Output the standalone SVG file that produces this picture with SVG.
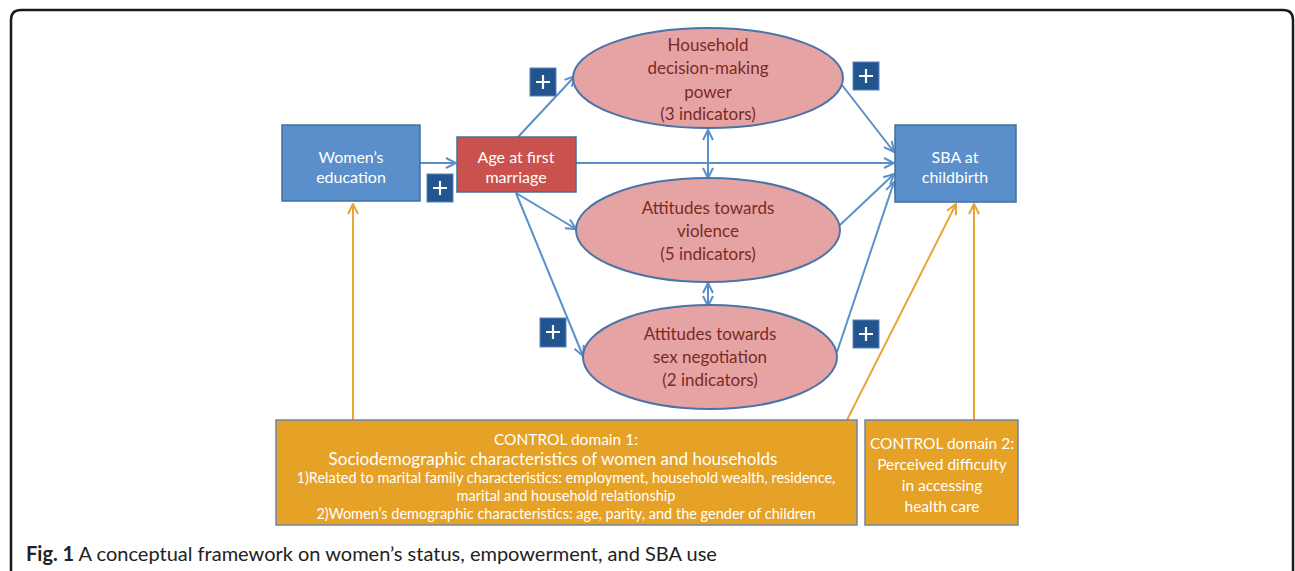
<svg xmlns="http://www.w3.org/2000/svg" width="1295" height="571" viewBox="0 0 1295 571">
<defs>
<style>
.t{font-family:Lato,"Open Sans","Liberation Sans",sans-serif;text-anchor:middle}
.w{fill:#ffffff}
.r{fill:#7a2a26}
.blue{fill:#5b8fcb;stroke:#41709f;stroke-width:1.5}
.ell{fill:#e5a4a3;stroke:#4a74a8;stroke-width:2}
.ctl{fill:#e6a127;stroke:#6f87a5;stroke-width:1.5}
.plus{fill:#22548e;stroke:#5b84b8;stroke-width:1}
.cb{stroke:#5b8fcb;stroke-width:2;fill:none;marker-end:url(#ab)}
.co{stroke:#e9a534;stroke-width:2;fill:none;marker-end:url(#ao)}
.pl{stroke:#ffffff;stroke-width:2.2}
</style>
<marker id="ab" viewBox="0 0 12 12" refX="11" refY="6" markerWidth="12" markerHeight="12" markerUnits="userSpaceOnUse" orient="auto-start-reverse"><path d="M1,1 L11,6 L1,11" fill="none" stroke="#5b8fcb" stroke-width="2"/></marker>
<marker id="ao" viewBox="0 0 12 12" refX="11" refY="6" markerWidth="12" markerHeight="12" markerUnits="userSpaceOnUse" orient="auto"><path d="M1,1 L11,6 L1,11" fill="none" stroke="#e9a534" stroke-width="2"/></marker>
</defs>
<rect x="0" y="0" width="1295" height="571" fill="#ffffff"/>
<path d="M11,580 L11,20 Q11,10 21,10 L1283,10 Q1293,10 1293,20 L1293,580" fill="none" stroke="#1a1a1a" stroke-width="2.5"/>

<g id="connectors">
<line class="cb" x1="420" y1="163" x2="456" y2="163"/>
<line class="cb" x1="518" y1="137" x2="575" y2="76"/>
<line class="cb" x1="576" y1="163" x2="894" y2="163"/>
<line class="cb" x1="516" y1="193" x2="576" y2="229"/>
<line class="cb" x1="516" y1="193" x2="583" y2="356"/>
<line class="cb" x1="708" y1="130" x2="708" y2="178" marker-start="url(#ab)"/>
<line class="cb" x1="708" y1="283" x2="708" y2="306" marker-start="url(#ab)"/>
<line class="cb" x1="842" y1="85" x2="894" y2="152"/>
<line class="cb" x1="840" y1="225" x2="894" y2="174"/>
<line class="cb" x1="837" y1="352" x2="894" y2="182"/>
<line class="co" x1="353" y1="420" x2="353" y2="204"/>
<line class="co" x1="847" y1="420" x2="956" y2="204"/>
<line class="co" x1="974" y1="420" x2="974" y2="204"/>
</g>

<g id="education">
<rect class="blue" x="282" y="125" width="138" height="76"/>
<text class="t w" x="351" y="163" font-size="16">Women’s</text>
<text class="t w" x="351" y="183" font-size="16">education</text>
</g>
<g id="age">
<rect x="457" y="137" width="119" height="55" fill="#c9524e" stroke="#41709f" stroke-width="1.5"/>
<text class="t w" x="516" y="163" font-size="16">Age at first</text>
<text class="t w" x="516" y="183" font-size="16">marriage</text>
</g>
<g id="household">
<ellipse class="ell" cx="708" cy="78" rx="135" ry="50"/>
<text class="t r" x="708" y="51" font-size="17">Household</text>
<text class="t r" x="708" y="74" font-size="17">decision-making</text>
<text class="t r" x="708" y="98" font-size="17">power</text>
<text class="t r" x="708" y="120" font-size="17">(3 indicators)</text>
</g>
<g id="violence">
<ellipse class="ell" cx="708" cy="230" rx="132" ry="52"/>
<text class="t r" x="708" y="214" font-size="17">Attitudes towards</text>
<text class="t r" x="708" y="237" font-size="17">violence</text>
<text class="t r" x="708" y="260" font-size="17">(5 indicators)</text>
</g>
<g id="sexneg">
<ellipse class="ell" cx="710" cy="357" rx="127" ry="52"/>
<text class="t r" x="710" y="340" font-size="17">Attitudes towards</text>
<text class="t r" x="710" y="363" font-size="17">sex negotiation</text>
<text class="t r" x="710" y="386" font-size="17">(2 indicators)</text>
</g>
<g id="sba">
<rect class="blue" x="895" y="125" width="121" height="77"/>
<text class="t w" x="955" y="163" font-size="16">SBA at</text>
<text class="t w" x="955" y="183" font-size="16">childbirth</text>
</g>
<g id="plus1"><rect class="plus" x="427" y="174" width="26" height="28"/><path class="pl" d="M433,188 h14 M440,181 v14"/></g>
<g id="plus2"><rect class="plus" x="530" y="68" width="26" height="28"/><path class="pl" d="M536,82 h14 M543,75 v14"/></g>
<g id="plus3"><rect class="plus" x="853" y="62" width="26" height="28"/><path class="pl" d="M859,76 h14 M866,69 v14"/></g>
<g id="plus4"><rect class="plus" x="540" y="318" width="26" height="29"/><path class="pl" d="M546,332 h14 M553,325 v14"/></g>
<g id="plus5"><rect class="plus" x="853" y="320" width="26" height="28"/><path class="pl" d="M859,334 h14 M866,327 v14"/></g>
<g id="control1">
<rect class="ctl" x="276" y="420" width="581" height="105"/>
<text class="t w" x="566" y="445" font-size="15.5">CONTROL domain 1:</text>
<text class="t w" x="553" y="465" font-size="17">Sociodemographic characteristics of women and households</text>
<text class="t w" x="566" y="483" font-size="14.5">1)Related to marital family characteristics: employment, household wealth, residence,</text>
<text class="t w" x="566" y="501" font-size="14.5">marital and household relationship</text>
<text class="t w" x="566" y="519" font-size="14.5">2)Women’s demographic characteristics: age, parity, and the gender of children</text>
</g>
<g id="control2">
<rect class="ctl" x="865" y="420" width="153" height="105"/>
<text class="t w" x="942" y="449" font-size="15.5">CONTROL domain 2:</text>
<text class="t w" x="942" y="470" font-size="15.5">Perceived difficulty</text>
<text class="t w" x="942" y="491" font-size="15.5">in accessing</text>
<text class="t w" x="942" y="512" font-size="15.5">health care</text>
</g>
<text x="26" y="561" font-family="Lato,'Open Sans','Liberation Sans',sans-serif" font-size="20" fill="#222"><tspan font-weight="bold">Fig. 1</tspan> A conceptual framework on women’s status, empowerment, and SBA use</text>
</svg>
